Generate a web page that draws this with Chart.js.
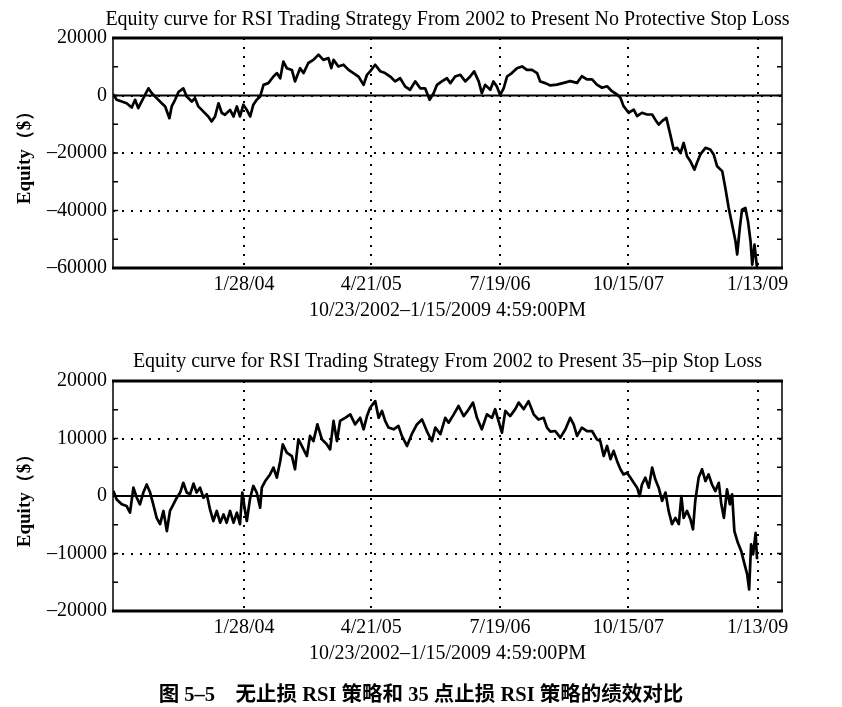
<!DOCTYPE html>
<html>
<head>
<meta charset="utf-8">
<script src="https://cdn.jsdelivr.net/npm/chart.js@4.4.1/dist/chart.umd.min.js"></script>
<style>
  body { margin: 0; background: #fff; width: 842px; height: 707px; position: relative; overflow: hidden; }
  .box { position: absolute; left: 0; width: 842px; height: 340px; }
  #caption { position: absolute; left: 0; top: 677px; width: 842px; text-align: center;
             font: bold 20.5px "Liberation Serif", "Noto Sans CJK SC"; color: #000; }
</style>
</head>
<body>
<div class="box" style="top:0"><canvas id="noStop"></canvas></div>
<div class="box" style="top:343px"><canvas id="pipStop"></canvas></div>
<div id="caption">图 5–5　无止损 RSI 策略和 35 点止损 RSI 策略的绩效对比</div>

<script>
// x values are days since 10/23/2002
const tickDays = [462, 911, 1365, 1818, 2274];
const tickLabels = ['1/28/04', '4/21/05', '7/19/06', '10/15/07', '1/13/09'];

// no protective stop loss
const noStopDays = [1, 13, 31, 48, 66, 78, 89, 107, 125, 137, 154, 172, 184, 199, 207, 219, 231, 248, 260, 278,
  289, 301, 319, 336, 348, 360, 372, 384, 395, 413, 425, 437, 448, 460, 472, 484, 495, 507, 519, 531,
  548, 566, 578, 590, 601, 613, 631, 642, 660, 672, 689, 707, 725, 742, 760, 770, 778, 795, 813, 831,
  848, 866, 884, 896, 907, 925, 943, 960, 978, 995, 1013, 1031, 1048, 1066, 1084, 1101, 1117, 1131, 1143, 1160,
  1178, 1190, 1207, 1225, 1243, 1260, 1274, 1290, 1301, 1313, 1331, 1342, 1354, 1366, 1378, 1390, 1407, 1425, 1443, 1460,
  1478, 1496, 1507, 1525, 1543, 1566, 1590, 1613, 1637, 1654, 1672, 1690, 1707, 1725, 1743, 1760, 1778, 1790, 1801, 1819,
  1837, 1849, 1866, 1884, 1902, 1913, 1925, 1937, 1952, 1966, 1978, 1990, 2002, 2013, 2025, 2037, 2051, 2060, 2072, 2090,
  2107, 2119, 2131, 2149, 2160, 2172, 2184, 2196, 2202, 2211, 2219, 2231, 2240, 2249, 2255, 2263, 2272];
const noStopEquity = [500, -1500, -2100, -2700, -4200, -1500, -4400, -900, 2500, 800, -900, -2700, -3800, -7900, -3800, -1500, 1200, 2500, -350, -2100,
  -900, -3800, -5600, -7300, -9000, -7300, -2700, -6100, -6700, -5000, -7300, -3800, -7300, -3200, -5000, -7300, -3200, -1500, -350, 3700,
  4300, 6600, 7800, 6000, 11800, 9500, 8900, 4900, 9500, 7800, 11300, 12400, 14200, 12400, 13000, 9500, 12400, 10100, 10700, 8900,
  7800, 6600, 3700, 7200, 8400, 10700, 8400, 7800, 6600, 4900, 6000, 3100, 2000, 4900, 2500, 2500, -1500, 800, 3700, 4900,
  6000, 4300, 6600, 7200, 4900, 6600, 8400, 4900, 800, 3700, 2000, 4900, 3100, 200, 2500, 6600, 7800, 9500, 10100, 8900,
  8900, 7800, 4900, 4300, 3500, 3800, 4400, 5000, 4400, 6700, 5600, 5600, 3800, 2700, 3200, 1500, 350, -800, -3700, -6000,
  -4900, -7200, -6000, -6600, -6600, -8400, -10100, -8900, -7800, -13600, -18800, -18200, -20000, -16500, -21100, -22900, -25800, -23400, -20500, -18200,
  -18800, -20500, -24600, -26300, -32100, -39100, -44900, -50700, -55300, -46100, -39700, -39100, -43700, -50700, -58800, -51900, -60000];

// 35-pip stop loss
const pipStopDays = [1, 13, 31, 48, 60, 72, 84, 95, 107, 119, 131, 142, 154, 166, 178, 190, 201, 213, 225, 237,
  248, 260, 272, 284, 295, 307, 319, 331, 342, 354, 366, 378, 390, 401, 413, 425, 437, 448, 456, 466,
  472, 484, 495, 507, 519, 525, 537, 554, 566, 578, 590, 599, 613, 631, 642, 654, 666, 684, 695, 707,
  721, 737, 754, 766, 778, 790, 801, 819, 837, 854, 872, 884, 896, 907, 925, 937, 949, 960, 972, 990,
  1007, 1019, 1037, 1054, 1072, 1090, 1107, 1125, 1137, 1155, 1172, 1184, 1202, 1219, 1237, 1251, 1270, 1284, 1301, 1319,
  1337, 1348, 1360, 1372, 1384, 1401, 1419, 1431, 1449, 1466, 1484, 1501, 1519, 1531, 1543, 1560, 1578, 1596, 1613, 1625,
  1637, 1654, 1672, 1690, 1707, 1719, 1731, 1743, 1755, 1766, 1778, 1790, 1801, 1813, 1825, 1837, 1849, 1858, 1866, 1878,
  1890, 1902, 1913, 1925, 1937, 1949, 1960, 1972, 1984, 1996, 2005, 2013, 2025, 2037, 2046, 2054, 2066, 2078, 2090, 2101,
  2113, 2125, 2137, 2146, 2155, 2166, 2176, 2184, 2192, 2204, 2216, 2228, 2237, 2244, 2251, 2258, 2263, 2267, 2272];
const pipStopEquity = [900, -600, -1450, -1750, -2900, 1450, -300, -1450, 600, 2000, 600, -1450, -3800, -4900, -2600, -6100, -2600, -1450, -300, 600,
  2300, 600, 300, 2150, 600, 1450, -300, 300, -2300, -4350, -2600, -4650, -3200, -4650, -2600, -4650, -2900, -4900, 600, -2600,
  -4350, -300, 1750, 600, -2050, 1450, 2600, 3750, 4950, 3200, 6100, 9000, 7550, 6950, 4650, 9850, 8700, 6950, 10450, 9550,
  12450, 9850, 9000, 8100, 13050, 9550, 13050, 13600, 14200, 12450, 13600, 11600, 13900, 15350, 16500, 13600, 14800, 13050, 11900, 11600,
  12200, 10450, 8700, 10750, 12450, 13300, 11300, 9550, 11900, 10750, 13600, 12750, 14200, 15650, 13900, 14800, 16250, 13600, 11600, 14200,
  13600, 15100, 13050, 11000, 14800, 13900, 15100, 16250, 15100, 16500, 14200, 13300, 13600, 11900, 11200, 11300, 10150, 11600, 13600, 12450,
  10450, 11900, 11300, 11300, 9850, 9550, 6950, 8700, 6400, 7850, 6100, 4650, 3750, 4050, 3200, 2300, 1450, 0, 2000, 3200,
  1450, 4950, 2900, 1450, -850, 600, -2600, -4900, -3800, -4900, 0, -3800, -2600, -4050, -5800, -850, 3200, 4650, 2600, 3750,
  2000, 850, 2300, -1450, -3800, 1150, -1450, 300, -6100, -8100, -9550, -11900, -13600, -16250, -8400, -10150, -8100, -6400, -11000];

const serif = 'Liberation Serif';

// title, zero line, frame and small inside ticks
const framePlugin = {
  id: 'frame',
  beforeDatasetsDraw(chart, args, opts) {
    const { ctx, chartArea: a, scales: { y } } = chart;
    const z = y.getPixelForValue(0);
    ctx.save();
    ctx.strokeStyle = '#000';
    ctx.lineWidth = 2;
    ctx.beginPath();
    ctx.moveTo(a.left, z);
    ctx.lineTo(a.right, z);
    ctx.stroke();
    ctx.restore();
  },
  afterDraw(chart, args, opts) {
    const { ctx, chartArea: a, scales: { y } } = chart;
    ctx.save();
    ctx.strokeStyle = '#000';
    ctx.lineWidth = 1.5;
    for (let v = y.min; v <= y.max; v += opts.minor) {
      const p = y.getPixelForValue(v);
      ctx.beginPath();
      ctx.moveTo(a.left, p); ctx.lineTo(a.left + 5, p);
      ctx.moveTo(a.right - 5, p); ctx.lineTo(a.right, p);
      ctx.stroke();
    }
    ctx.beginPath();
    ctx.moveTo(a.left, a.top); ctx.lineTo(a.left, a.bottom);
    ctx.moveTo(a.right, a.top); ctx.lineTo(a.right, a.bottom);
    ctx.stroke();
    ctx.lineWidth = 3;
    ctx.beginPath();
    ctx.moveTo(a.left - 1, a.top); ctx.lineTo(a.right + 1, a.top);
    ctx.moveTo(a.left - 1, a.bottom); ctx.lineTo(a.right + 1, a.bottom);
    ctx.stroke();

    ctx.fillStyle = '#000';
    ctx.font = '20px "' + serif + '"';
    ctx.textAlign = 'center';
    ctx.textBaseline = 'middle';
    ctx.fillText(opts.title, (a.left + a.right) / 2, opts.titleY, 712);
    ctx.restore();
  }
};

function makeChart(id, title, titleY, days, equity, yMin, yMax, yStep, minor) {
  return new Chart(document.getElementById(id), {
    type: 'line',
    data: {
      datasets: [{
        data: days.map((d, i) => ({ x: d, y: equity[i] })),
        borderColor: '#000',
        borderWidth: 2.7,
        borderJoinStyle: 'round',
        pointRadius: 0,
        tension: 0
      }]
    },
    options: {
      animation: false,
      responsive: true,
      maintainAspectRatio: false,
      layout: { padding: { left: 0, right: 60, top: 38, bottom: 0 } },
      plugins: {
        legend: { display: false },
        tooltip: { enabled: false },
        frame: { title: title, titleY: titleY, minor: minor }
      },
      scales: {
        x: {
          type: 'linear',
          min: 0,
          max: 2360,
          afterBuildTicks: s => { s.ticks = tickDays.map(v => ({ value: v })); },
          afterFit: s => { s.height = 72; },
          ticks: {
            autoSkip: false,
            maxRotation: 0,
            padding: 5,
            color: '#000',
            font: { family: serif, size: 20 },
            callback: v => tickLabels[tickDays.indexOf(v)]
          },
          grid: { color: '#000', lineWidth: 2, drawTicks: false },
          border: { display: false, dash: [2, 7] },
          title: {
            display: true,
            text: '10/23/2002–1/15/2009 4:59:00PM',
            color: '#000',
            font: { family: serif, size: 20 },
            padding: { top: 0, bottom: 17 }
          }
        },
        y: {
          min: yMin,
          max: yMax,
          afterFit: s => { s.width = 113; },
          ticks: {
            stepSize: yStep,
            padding: 6,
            color: '#000',
            font: { family: serif, size: 20 },
            callback: v => String(v).replace('-', '–')
          },
          grid: { color: '#000', lineWidth: 2, drawTicks: false },
          border: { display: false, dash: [2, 7] },
          title: {
            display: true,
            text: 'Equity（$）',
            color: '#000',
            font: { family: serif, size: 19, weight: 'bold' },
            padding: { top: 14, bottom: 0 }
          }
        }
      }
    },
    plugins: [framePlugin]
  });
}

makeChart('noStop', 'Equity curve for RSI Trading Strategy From 2002 to Present No Protective Stop Loss', 20,
  noStopDays, noStopEquity, -60000, 20000, 20000, 10000);
makeChart('pipStop', 'Equity curve for RSI Trading Strategy From 2002 to Present 35–pip Stop Loss', 19,
  pipStopDays, pipStopEquity, -20000, 20000, 10000, 5000);
</script>
</body>
</html>
